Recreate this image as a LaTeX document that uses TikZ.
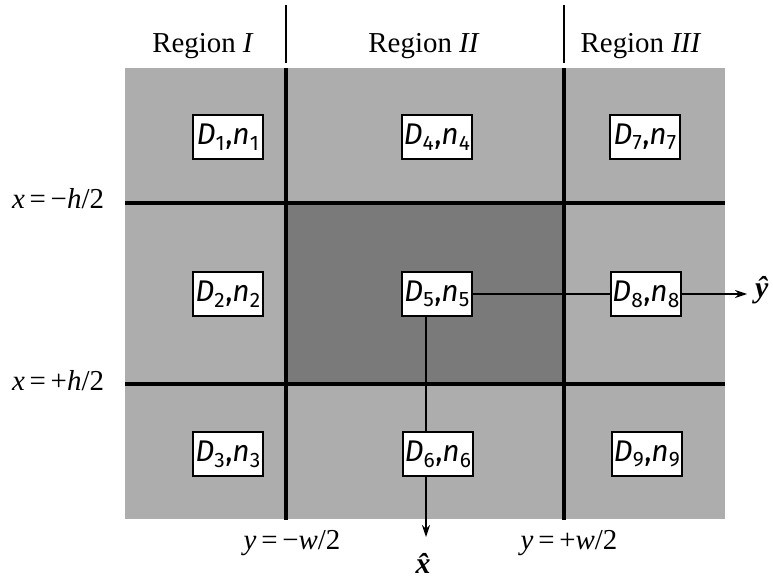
\documentclass[tikz,border=0pt]{standalone}
\usepackage{fontspec}
\setmainfont{Liberation Serif}
\newfontfamily\boxfont{Fira Sans}
\usetikzlibrary{arrows.meta}
\tikzset{
  dbox/.style={draw=black, line width=1.4bp, fill=white, minimum width=70bp, minimum height=44bp, inner sep=0pt, font=\boxfont\fontsize{30}{32}\selectfont},
  lbl/.style={font=\fontsize{29}{34}\selectfont, inner sep=0pt, anchor=base},
  hatlbl/.style={font=\fontsize{30}{34}\selectfont\bfseries\itshape, inner sep=0pt},
  divider/.style={line width=4bp},
  thindiv/.style={line width=1.8bp},
  conn/.style={line width=1.2bp},
  arr/.style={conn, -{Stealth[length=12bp, width=8bp]}}
}
\newcommand{\DN}[1]{\textit{D}\textsubscript{#1},\textit{n}\textsubscript{#1}}
\begin{document}
\begin{tikzpicture}[x=1bp, y=-1bp]
\useasboundingbox (0,0) rectangle (773,582);
% shading
\fill[black!32] (125,68) rectangle (725,519);
\fill[black!52] (286,203) rectangle (564,384);
% dividers
\draw[divider] (125,203) -- (725,203);
\draw[divider] (125,384) -- (725,384);
\draw[divider] (286,68) -- (286,520);
\draw[divider] (564,68) -- (564,520);
\draw[thindiv] (286,5) -- (286,63);
\draw[thindiv] (564,5) -- (564,63);
% region labels
\node[lbl] (r1) at (203,53) {Region \textit{I}};
\node[lbl] (r2) at (424,53) {Region \textit{II}};
\node[lbl] (r3) at (641,53) {Region \textit{III}};
\node[lbl] (xm) at (58,209) {\textit{x}\,=\,−\textit{h}/2};
\node[lbl] (xp) at (58,390) {\textit{x}\,=\,+\textit{h}/2};
\node[lbl] (ym) at (292,549) {\textit{y}\,=\,−\textit{w}/2};
\node[lbl] (yp) at (569,549) {\textit{y}\,=\,+\textit{w}/2};
% boxes
\node[dbox] (d1) at (228,137) {\DN{1}};
\node[dbox] (d4) at (437,137) {\DN{4}};
\node[dbox] (d7) at (645,137) {\DN{7}};
\node[dbox] (d2) at (228,294) {\DN{2}};
\node[dbox] (d5) at (437,294) {\DN{5}};
\node[dbox] (d8) at (646,294) {\DN{8}};
\node[dbox] (d3) at (228,454) {\DN{3}};
\node[dbox] (d6) at (438,454) {\DN{6}};
\node[dbox] (d9) at (647,454) {\DN{9}};
% axes
\coordinate (xtip) at (426,537);
\coordinate (ytip) at (747,294);
\node[hatlbl] (xhat) at (423,563) {\^{x}};
\node[hatlbl, anchor=west] (yhat) at (755,290) {\^{y}};
\draw[conn] (d5.east) -- (d8.west);
\draw[arr] (d8.east) -- (ytip);
\draw[conn] (d5.south -| xtip) -- (d6.north -| xtip);
\draw[arr] (d6.south -| xtip) -- (xtip);
\end{tikzpicture}
\end{document}
